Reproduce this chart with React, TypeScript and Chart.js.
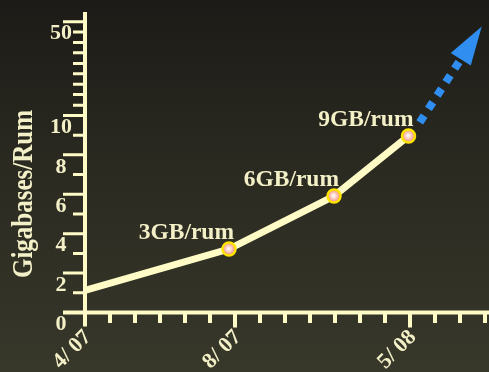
import React, { useEffect, useRef } from 'react';
import { Chart, registerables } from 'chart.js';

Chart.register(...registerables);

// ---- data ----
const monthsSinceApr07 = [0, 5.76, 9.96, 12.94];
const gigabasesPerRun = [1.12, 3.22, 5.91, 8.96];
const pointLabels = ['', '3GB/rum', '6GB/rum', '9GB/rum'];

const trendX = [13.39, 14.97];
const trendY = [9.65, 33.0];
const arrowHeadX = [14.63, 15.87, 15.43];
const arrowHeadY = [36.6, 47.9, 31.3];

const xTickValues = [0, 6, 13];
const xTickLabels = ['4/ 07', '8/ 07', '5/ 08'];
const xMinorTicks = [1, 2, 3, 4, 5, 7, 8, 9, 10, 11, 12, 14, 15, 16];

const yTickValues = [0, 2, 4, 6, 8, 10, 50];
const yTickLabels = ['0', '2', '4', '6', '8', '10', '50'];
const yMinorTicks = [1, 3, 5, 7, 9, 14.4, 18.9, 23.3, 27.8, 32.2, 36.7, 41.1, 45.6];

const yTitle = 'Gigabases/Rum';

// broken axis: linear up to 10, compressed above
const AXIS_BREAK = 10;
const COMPRESS = 0.119;
const toAxis = (v: number) => (v <= AXIS_BREAK ? v : AXIS_BREAK + (v - AXIS_BREAK) * COMPRESS);

const CREAM = '#fffbc6';
const TEXT = '#f3efc6';
const BLUE = '#2f8ef0';
const FONT = '"Liberation Serif", "Times New Roman", serif';

const decorPlugin = {
  id: 'decor',
  afterDatasetsDraw(chart: any) {
    const { ctx, chartArea } = chart;
    const x = chart.scales.x;
    const y = chart.scales.y;
    const x0 = x.getPixelForValue(0);
    const y0 = y.getPixelForValue(0);
    ctx.save();

    // arrow head
    ctx.fillStyle = BLUE;
    ctx.beginPath();
    arrowHeadX.forEach((v, i) => {
      const px = x.getPixelForValue(v);
      const py = y.getPixelForValue(toAxis(arrowHeadY[i]));
      if (i === 0) ctx.moveTo(px, py);
      else ctx.lineTo(px, py);
    });
    ctx.closePath();
    ctx.fill();

    // axes
    ctx.strokeStyle = CREAM;
    ctx.lineCap = 'butt';
    ctx.lineWidth = 4;
    ctx.beginPath();
    ctx.moveTo(x0, chartArea.top);
    ctx.lineTo(x0, y0 + 14);
    ctx.moveTo(x0 - 22, y0);
    ctx.lineTo(chartArea.right, y0);
    ctx.stroke();

    // y ticks
    ctx.lineWidth = 3;
    ctx.beginPath();
    yTickValues.forEach((v) => {
      if (v === 0) return;
      const py = y.getPixelForValue(toAxis(v));
      ctx.moveTo(x0 - 22, py);
      ctx.lineTo(x0, py);
    });
    yMinorTicks.forEach((v) => {
      const py = y.getPixelForValue(toAxis(v));
      ctx.moveTo(x0 - 12, py);
      ctx.lineTo(x0, py);
    });
    ctx.stroke();

    // x ticks
    ctx.lineWidth = 4;
    ctx.beginPath();
    xTickValues.forEach((v) => {
      if (v === 0) return;
      const px = x.getPixelForValue(v);
      ctx.moveTo(px, y0);
      ctx.lineTo(px, y0 + 15);
    });
    xMinorTicks.forEach((v) => {
      const px = x.getPixelForValue(v);
      ctx.moveTo(px, y0);
      ctx.lineTo(px, y0 + 10.5);
    });
    ctx.stroke();

    // point labels
    const meta = chart.getDatasetMeta(0);
    ctx.fillStyle = TEXT;
    ctx.font = `bold 23.5px ${FONT}`;
    ctx.textAlign = 'right';
    ctx.textBaseline = 'alphabetic';
    pointLabels.forEach((t, i) => {
      if (!t) return;
      const el = meta.data[i];
      ctx.fillText(t, el.x + 5, el.y - 10);
    });

    // y axis title
    ctx.translate(32, 194);
    ctx.rotate(-Math.PI / 2);
    ctx.scale(1, 1.15);
    ctx.font = `bold 25px ${FONT}`;
    ctx.textAlign = 'center';
    ctx.textBaseline = 'alphabetic';
    ctx.fillText(yTitle, 0, 0);

    ctx.restore();
  },
};

export default function App() {
  const ref = useRef<HTMLCanvasElement>(null);

  useEffect(() => {
    document.body.style.margin = '0';
    const canvas = ref.current!;
    const chart = new Chart(canvas, {
      type: 'line',
      data: {
        datasets: [
          {
            data: monthsSinceApr07.map((m, i) => ({ x: m, y: toAxis(gigabasesPerRun[i]) })),
            borderColor: CREAM,
            borderWidth: 7,
            tension: 0,
            fill: false,
            pointRadius: pointLabels.map((t) => (t ? 6.5 : 0)),
            pointBorderWidth: 2.5,
            pointBorderColor: '#ffe400',
            pointBackgroundColor: (c: any) => {
              const chart = c.chart;
              const xs = chart.scales && chart.scales.x;
              const ys = chart.scales && chart.scales.y;
              if (c.type !== 'data' || !xs || !ys) return '#f39a8a';
              const px = xs.getPixelForValue(monthsSinceApr07[c.dataIndex]);
              const py = ys.getPixelForValue(toAxis(gigabasesPerRun[c.dataIndex]));
              if (!Number.isFinite(px) || !Number.isFinite(py)) return '#f39a8a';
              const g = chart.ctx.createRadialGradient(px - 0.5, py - 0.5, 0, px, py, 7);
              g.addColorStop(0, '#ffffff');
              g.addColorStop(0.35, '#fcd8cc');
              g.addColorStop(1, '#ef7c6c');
              return g;
            },
          },
          {
            data: trendX.map((v, i) => ({ x: v, y: toAxis(trendY[i]) })),
            borderColor: BLUE,
            borderWidth: 8,
            borderDash: [8, 8],
            borderCapStyle: 'butt',
            pointRadius: 0,
            fill: false,
          },
        ],
      },
      options: {
        responsive: false,
        animation: false,
        devicePixelRatio: 1,
        layout: { autoPadding: false, padding: { top: 12, left: 0, right: 0, bottom: 0 } },
        plugins: {
          legend: { display: false },
          tooltip: { enabled: false },
          title: { display: false },
        },
        events: [],
        scales: {
          x: {
            type: 'linear',
            min: 0,
            max: 16.16,
            grid: { display: false, drawTicks: false },
            border: { display: false },
            afterBuildTicks: (s: any) => {
              s.ticks = xTickValues.map((v) => ({ value: v }));
            },
            afterFit: (s: any) => {
              s.height = 59.5;
              s.paddingLeft = 0;
              s.paddingRight = 0;
            },
            ticks: {
              autoSkip: false,
              minRotation: 45,
              maxRotation: 45,
              padding: 12,
              labelOffset: 3,
              color: TEXT,
              font: { family: FONT, size: 22, weight: 'bold' },
              callback: (_v: any, i: number) => xTickLabels[i],
            },
          },
          y: {
            type: 'linear',
            min: 0,
            max: 15.25,
            grid: { display: false, drawTicks: false },
            border: { display: false },
            afterBuildTicks: (s: any) => {
              s.ticks = yTickValues.map((v) => ({ value: toAxis(v) }));
            },
            afterFit: (s: any) => {
              s.width = 85;
              s.paddingTop = 0;
              s.paddingBottom = 0;
            },
            ticks: {
              crossAlign: 'center',
              padding: 13,
              labelOffset: 12,
              color: TEXT,
              font: { family: FONT, size: 22, weight: 'bold' },
              callback: (_v: any, i: number) => yTickLabels[i],
            },
          },
        },
      },
      plugins: [decorPlugin],
    } as any);
    return () => chart.destroy();
  }, []);

  return (
    <div
      style={{
        width: 489,
        height: 372,
        background: 'linear-gradient(to bottom, #1c1b17 0%, #2a2a21 45%, #37372a 100%)',
      }}
    >
      <canvas ref={ref} width={489} height={372} style={{ display: 'block' }} />
    </div>
  );
}
